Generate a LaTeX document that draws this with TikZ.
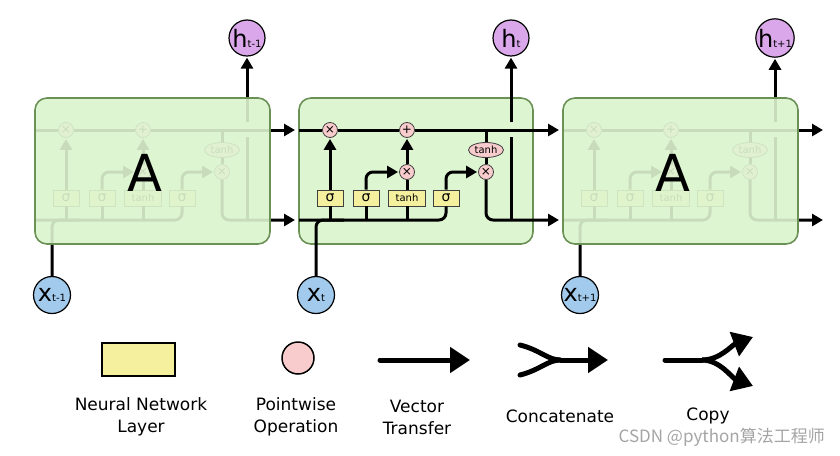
\documentclass[tikz,border=0pt]{standalone}
\usepackage{fontspec}
\setmainfont{DejaVu Sans}
\newfontfamily\cjk{Noto Sans CJK SC}
\usetikzlibrary{arrows.meta,shapes.geometric}
\definecolor{cellfill}{RGB}{222,245,209}
\definecolor{cellborder}{RGB}{108,145,86}
\definecolor{layeryellow}{RGB}{245,240,158}
\definecolor{pwpink}{RGB}{248,204,204}
\definecolor{hpurple}{RGB}{218,168,234}
\definecolor{xblue}{RGB}{162,202,236}
\definecolor{wmgray}{RGB}{165,165,165}
\newcommand\cellsym[2]{{\fontsize{24}{24}\selectfont #1}{\fontsize{10}{10}\selectfont #2}}
\tikzset{
  line/.style={line width=3pt, draw=black},
  arr/.style={line, -{Triangle[length=11pt,width=12pt]}, shorten >=1pt},
  pw/.style={circle, draw=black!75, line width=0.8pt, fill=pwpink, minimum size=15pt, inner sep=0pt, font=\fontsize{12}{12}\selectfont},
  layer/.style={rectangle, draw=black!75, line width=0.8pt, fill=layeryellow, minimum width=26pt, minimum height=16pt, inner sep=0pt, font=\fontsize{14}{14}\selectfont},
  tanhe/.style={ellipse, draw=black!75, line width=0.8pt, fill=pwpink, minimum width=35pt, minimum height=15pt, inner sep=0pt, font=\fontsize{10}{10}\selectfont},
  cellbox/.style={draw=cellborder, line width=1.6pt, fill=cellfill, rounded corners=12pt},
  hnode/.style={circle, draw=black, line width=1.2pt, fill=hpurple, minimum size=36pt, inner sep=0pt},
  xnode/.style={circle, draw=black, line width=1.2pt, fill=xblue, minimum size=37pt, inner sep=0pt},
  bigA/.style={font=\fontsize{51}{51}\selectfont, inner sep=0pt},
  legline/.style={line width=5pt, line cap=round},
  legarr/.style={line width=5pt, -{Triangle[length=20pt,width=25pt]}},
  legtext/.style={align=center, font=\fontsize{17}{22}\selectfont, inner sep=0pt},
  lstm/.pic={
    \node[pw] (-ft) at (31,32) {×};
    \node[pw] (-plus) at (108,32) {+};
    \node[pw] (-it) at (108,74) {×};
    \node[tanhe] (-te) at (187,52) {tanh};
    \node[pw] (-ot) at (187,74) {×};
    \node[layer] (-s1) at (31,100) {σ};
    \node[layer] (-s2) at (67,100) {σ};
    \node[layer, minimum width=37pt, font=\fontsize{10}{10}\selectfont] (-tb) at (108,100) {tanh};
    \node[layer] (-s3) at (147,100) {σ};
    \coordinate (-cin) at (0,32);
    \coordinate (-cout) at (261,32);
    \coordinate (-hin) at (0,122);
    \coordinate (-hout) at (261,122);
    \coordinate (-j1) at (31,122);
    \coordinate (-j2) at (67,122);
    \coordinate (-j3) at (108,122);
    \coordinate (-jc) at (187,32);
    \coordinate (-hb) at (212,122);
    \coordinate (-ht) at (212,39);
    \coordinate (-hg) at (212,24);
    \coordinate (-xj) at (45,122);
    \draw[line] (-cin) -- (-ft);
    \draw[line] (-ft) -- (-plus);
    \draw[arr] (-plus) -- (-cout);
    \draw[line, rounded corners=7pt] (-hin) -| (-s3);
    \draw[arr, rounded corners=7pt] (-s3) |- (-ot);
    \draw[line] (-j1) -- (-s1);
    \draw[arr] (-s1) -- (-ft);
    \draw[line] (-j2) -- (-s2);
    \draw[arr, rounded corners=7pt] (-s2) |- (-it);
    \draw[line] (-j3) -- (-tb);
    \draw[line] (-tb) -- (-it);
    \draw[arr] (-it) -- (-plus);
    \draw[line] (-jc) -- (-te);
    \draw[line] (-te) -- (-ot);
    \draw[arr, rounded corners=7pt] (-ot) |- (-hout);
    \draw[line] (-hb) -- (-ht);
  }
}
\begin{document}
\begin{tikzpicture}[x=1pt,y=-1pt]
\useasboundingbox (0,0) rectangle (840,455);
\fill[white] (0,0) rectangle (840,455);

% left cell (faded)
\fill[cellfill, rounded corners=12pt] (35,98) rectangle ++(235,146);
\pic (L) at (35,98) {lstm};
\node[hnode] (hL) at (247,38) {\cellsym{h}{t-1}};
\node[xnode] (xL) at (52,295) {\cellsym{x}{t-1}};
\draw[arr] (L-hg) -- (hL);
\draw[line, rounded corners=7pt] (xL) |- (L-xj);
\draw[cellbox, fill opacity=0.9] (35,98) rectangle ++(235,146);
\node[bigA] (AL) at (145,173) {A};

% middle cell
\draw[cellbox] (299,98) rectangle ++(234,146);
\pic (M) at (299,98) {lstm};
\node[hnode] (hM) at (511,38) {\cellsym{h}{t}};
\node[xnode] (xM) at (316,295) {\cellsym{x}{t}};
\draw[arr] (M-hg) -- (hM);
\draw[line, rounded corners=7pt] (xM) |- (M-xj);

% right cell (faded)
\fill[cellfill, rounded corners=12pt] (563,98) rectangle ++(235,146);
\pic (R) at (563,98) {lstm};
\node[hnode] (hR) at (775,38) {\cellsym{h}{t+1}};
\node[xnode] (xR) at (580,295) {\cellsym{x}{t+1}};
\draw[arr] (R-hg) -- (hR);
\draw[line, rounded corners=7pt] (xR) |- (R-xj);
\draw[cellbox, fill opacity=0.9] (563,98) rectangle ++(235,146);
\node[bigA] (AR) at (673,173) {A};

% legend
\node[rectangle, draw=black, line width=1.5pt, fill=layeryellow, minimum width=73pt, minimum height=33pt, inner sep=0pt] (lnn) at (138.5,359.5) {};
\node[circle, draw=black, line width=1.5pt, fill=pwpink, minimum size=32pt, inner sep=0pt] (lpw) at (298,358) {};
\coordinate (v0) at (380,360);
\coordinate (v1) at (470,360);
\draw[legline, legarr] (v0) -- (v1);
\coordinate (ca) at (520,345);
\coordinate (cb) at (520,375);
\coordinate (c0) at (560,360);
\coordinate (c1) at (608,360);
\draw[legline] (ca) .. controls (540,350) and (548,360) .. (c0);
\draw[legline] (cb) .. controls (540,370) and (548,360) .. (c0);
\draw[legarr] (c0) -- (c1);
\coordinate (p0) at (665,360);
\coordinate (p1) at (702,360);
\coordinate (pa) at (753,337);
\coordinate (pb) at (753,386);
\draw[legline] (p0) -- (p1);
\draw[legarr] (p1) .. controls (720,360) and (732,345) .. (pa);
\draw[legarr] (p1) .. controls (720,360) and (732,378) .. (pb);
\node[legtext] (tnn) at (141,417) {Neural Network\\Layer};
\node[legtext] (tpw) at (296,417) {Pointwise\\Operation};
\node[legtext] (tvt) at (417,417) {Vector\\Transfer};
\node[legtext] (tcc) at (560,416) {Concatenate};
\node[legtext] (tcp) at (708,416) {Copy};
\node[anchor=east, text=wmgray, font=\cjk\fontsize{17}{17}\selectfont, inner sep=0pt] (wm) at (825,437) {CSDN @python算法工程师};
\end{tikzpicture}
\end{document}
